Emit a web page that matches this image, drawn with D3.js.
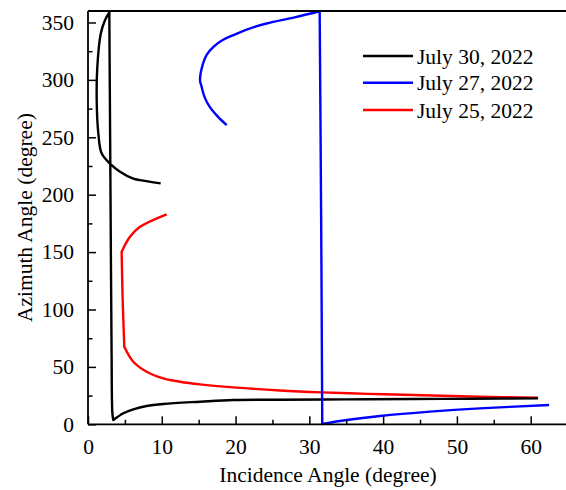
<!DOCTYPE html>
<html><head><meta charset="utf-8">
<script src="https://cdn.jsdelivr.net/npm/d3@7"></script>
<style>body{margin:0;background:#fff}svg{display:block}text{font-family:"Liberation Serif","Times New Roman",Times,serif}</style>
</head><body><svg id="c" width="566" height="490"></svg>
<script>
const seriesNames = ["July 30, 2022", "July 27, 2022", "July 25, 2022"];
const seriesColors = ["#000000", "#0000ff", "#ff0000"];

const jul30X = [9.85, 7.05, 6.14, 4.34, 2.98, 1.85, 1.40, 1.18, 1.26, 1.72, 2.3, 2.89, 3.0, 3.1, 3.2, 3.3, 3.43, 4.79, 6.14, 7.95, 10.2, 15.2, 19.7, 26, 35, 44.1, 52, 61.0];
const jul30Y = [209.8, 212.7, 214, 220, 227, 236, 253.5, 282, 311, 340, 352, 358.7, 250, 150, 60, 10, 3.7, 9.6, 13, 15.9, 17.7, 19.7, 21.2, 21.4, 21.7, 22, 22.3, 22.6];
const jul30Corners = [11, 16];

const jul27X = [18.8, 17.6, 16.5, 15.8, 15.4, 15.18, 15.6, 16.1, 17, 18.2, 19.7, 21.8, 24.2, 28, 31.4, 31.6, 31.75, 35.06, 39.6, 46.35, 53.1, 62.5];
const jul27Y = [260.6, 268, 276.5, 285, 294, 299.8, 314.3, 322, 328.8, 334.5, 339, 344.5, 349.1, 354.5, 359.8, 180, 0.3, 3.7, 7.2, 11, 13.9, 16.8];
const jul27Corners = [14, 16];

const jul25X = [10.66, 7.05, 5.69, 4.56, 4.7, 4.92, 6.14, 7.95, 10.2, 12.47, 15.2, 19.7, 26, 31.7, 38, 44.1, 53.1, 61.0];
const jul25Y = [182.9, 172, 163.3, 150.3, 108, 67.6, 54.5, 45.8, 40, 37.1, 34.8, 32.2, 29.5, 27.8, 26.5, 25.5, 24, 23.2];
const jul25Corners = [3, 5];

const xTicks = [0, 10, 20, 30, 40, 50, 60];
const yTicks = [0, 50, 100, 150, 200, 250, 300, 350];
const xTitle = "Incidence Angle (degree)";
const yTitle = "Azimuth Angle (degree)";

const svg = d3.select("#c");
const L = 88, T = 11, B = 424.3;
const x = d3.scaleLinear().domain([0, 65]).range([L, L + 65 * 7.378]);
const y = d3.scaleLinear().domain([0, 360]).range([B, T]);

const series = [
  {name: seriesNames[0], color: seriesColors[0], xs: jul30X, ys: jul30Y, corners: jul30Corners},
  {name: seriesNames[1], color: seriesColors[1], xs: jul27X, ys: jul27Y, corners: jul27Corners},
  {name: seriesNames[2], color: seriesColors[2], xs: jul25X, ys: jul25Y, corners: jul25Corners}
];

const line = d3.line().x(d => x(d[0])).y(d => y(d[1])).curve(d3.curveCatmullRom.alpha(0.5));
function pathFor(s) {
  const pts = s.xs.map((v, k) => [v, s.ys[k]]);
  const cuts = [0, ...s.corners, pts.length - 1];
  let d = "";
  for (let i = 0; i < cuts.length - 1; i++) {
    const seg = line(pts.slice(cuts[i], cuts[i + 1] + 1));
    d += i === 0 ? seg : seg.replace(/^M[^A-Za-z]*/, m => "L" + m.slice(1));
  }
  return d;
}
[2, 0, 1].forEach(i => {
  const s = series[i];
  svg.append("path").attr("d", pathFor(s))
    .attr("fill", "none").attr("stroke", s.color).attr("stroke-width", 2.4)
    .attr("stroke-linejoin", "round");
});

// axes
const fs = "21.5px";
const gx = svg.append("g").attr("transform", `translate(0,${B})`);
gx.call(d3.axisBottom(x).tickValues(d3.range(5, 65, 10)).tickSize(-4.5).tickFormat(""));
gx.call(g => g.append("g").call(d3.axisBottom(x).tickValues(xTicks).tickSize(-8).tickPadding(14)));
gx.selectAll("text").attr("font-size", fs).attr("fill", "#000").attr("font-family", "Liberation Serif, Times New Roman, serif");
gx.selectAll("line").attr("stroke", "#000").attr("stroke-width", 1.5);
gx.selectAll(".domain").remove();

const gy = svg.append("g").attr("transform", `translate(${L},0)`);
gy.call(d3.axisLeft(y).tickValues(d3.range(25, 360, 50)).tickSize(-4.5).tickFormat(""));
gy.call(g => g.append("g").call(d3.axisLeft(y).tickValues(yTicks).tickSize(-8).tickPadding(14)));
gy.selectAll("text").attr("font-size", fs).attr("fill", "#000").attr("font-family", "Liberation Serif, Times New Roman, serif");
gy.selectAll("line").attr("stroke", "#000").attr("stroke-width", 1.5);
gy.selectAll(".domain").remove();

// frame lines
svg.append("line").attr("x1", L).attr("x2", 566).attr("y1", B).attr("y2", B).attr("stroke", "#000").attr("stroke-width", 1.8);
svg.append("line").attr("x1", L).attr("x2", 566).attr("y1", T).attr("y2", T).attr("stroke", "#000").attr("stroke-width", 1.8);
svg.append("line").attr("x1", L).attr("x2", L).attr("y1", T).attr("y2", B).attr("stroke", "#000").attr("stroke-width", 1.8);

// titles
svg.append("text").attr("x", (219 + 437) / 2).attr("y", 482).attr("text-anchor", "middle")
  .attr("font-size", fs).text(xTitle);
svg.append("text").attr("transform", `translate(32,${(T + B) / 2}) rotate(-90)`).attr("text-anchor", "middle")
  .attr("font-size", fs).text(yTitle);

// legend
const legY = [56, 82.7, 110];
series.forEach((s, i) => {
  svg.append("line").attr("x1", 363).attr("x2", 413).attr("y1", legY[i]).attr("y2", legY[i])
    .attr("stroke", s.color).attr("stroke-width", 2.4);
  svg.append("text").attr("x", 417).attr("y", legY[i] + 7.5).attr("font-size", fs).text(s.name);
});
</script></body></html>
